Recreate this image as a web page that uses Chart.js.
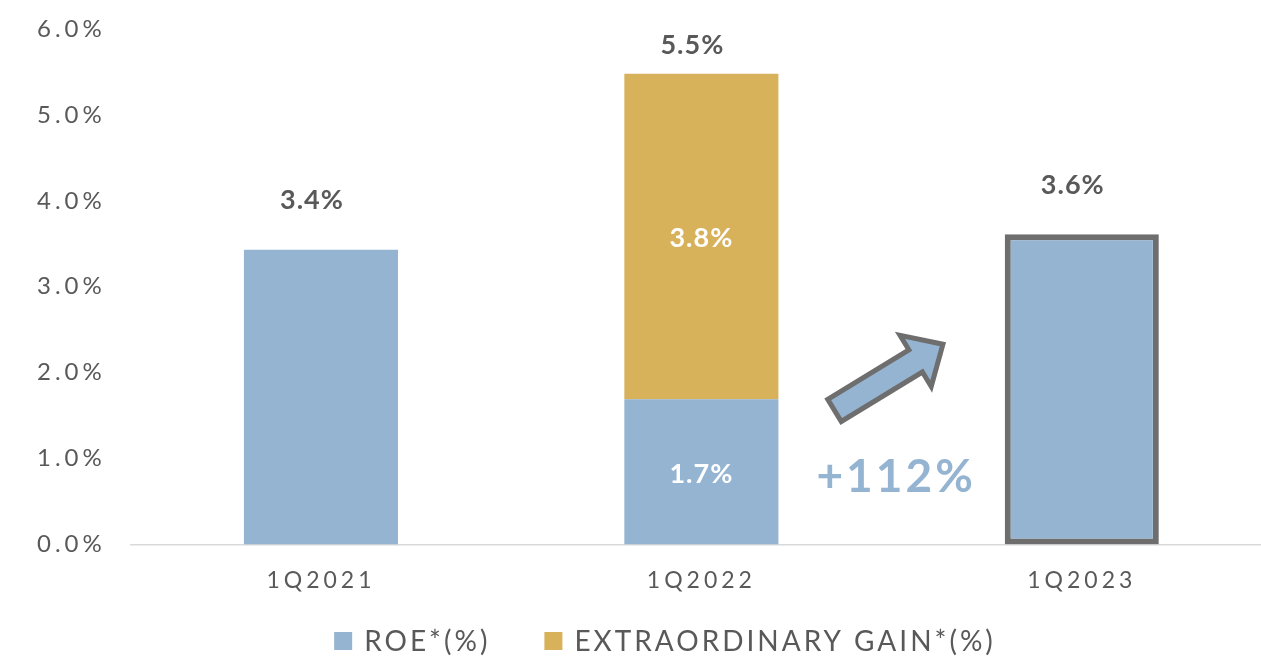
<!DOCTYPE html>
<html>
<head>
<meta charset="utf-8">
<script src="https://cdn.jsdelivr.net/npm/chart.js@4/dist/chart.umd.min.js"></script>
<style>
  html, body { margin: 0; padding: 0; background: #fff; overflow: hidden; }
  #wrap { width: 1272px; height: 659px; }
</style>
</head>
<body>
<div id="wrap"><canvas id="roeChart"></canvas></div>
<script>
// data
const quarters = ["1Q2021", "1Q2022", "1Q2023"];
const roeValues = [3.43, 1.69, 3.61];
const extraValues = [null, 3.79, null];
const yTicks = [0, 1, 2, 3, 4, 5, 6];
const growthLabel = "+112%";

const blue = "#95B4D2";
const gold = "#D8B15B";
const textGray = "#595959";
const edgeGray = "#6E6E6E";

// canvas letter spacing (gets reset when the canvas resizes)
const spacingPlugin = {
    id: "spacing",
    beforeLayout(chart) { chart.ctx.letterSpacing = "4px"; },
    beforeDraw(chart) { chart.ctx.letterSpacing = "4px"; }
};

// value labels: totals above, segment values inside when stacked
const labelPlugin = {
    id: "valueLabels",
    afterDatasetsDraw(chart) {
        const ctx = chart.ctx;
        const y = chart.scales.y;
        ctx.save();
        ctx.textAlign = "center";
        ctx.textBaseline = "middle";
        ctx.letterSpacing = "1px";
        ctx.font = "bold 27px Lato";
        for (let i = 0; i < quarters.length; i++) {
            const bar = chart.getDatasetMeta(0).data[i];
            const total = (roeValues[i] || 0) + (extraValues[i] || 0);
            const topPx = y.getPixelForValue(total);
            if (extraValues[i]) {
                ctx.fillStyle = "#ffffff";
                const roeTop = y.getPixelForValue(roeValues[i]);
                ctx.fillText(roeValues[i].toFixed(1) + "%", bar.x, (roeTop + y.getPixelForValue(0)) / 2 + 2);
                ctx.fillText(extraValues[i].toFixed(1) + "%", bar.x, (roeTop + topPx) / 2 + 2);
            }
            ctx.fillStyle = textGray;
            const ly = Math.max(topPx - 49, chart.chartArea.top + 16);
            ctx.fillText(total.toFixed(1) + "%", bar.x - 9, ly);
        }
        ctx.restore();
    }
};

// growth arrow and label between 1Q2022 and 1Q2023
const arrowPlugin = {
    id: "growthArrow",
    afterDatasetsDraw(chart) {
        const ctx = chart.ctx;
        const xs = chart.scales.x, ys = chart.scales.y;
        const x0 = xs.getPixelForValue(1.35), y0 = ys.getPixelForValue(1.56);
        const x1 = xs.getPixelForValue(1.635), y1 = ys.getPixelForValue(2.33);
        const len = Math.hypot(x1 - x0, y1 - y0);
        const ang = Math.atan2(y1 - y0, x1 - x0);
        const shaft = 13, head = 30, headLen = 32;
        ctx.save();
        ctx.translate(x0, y0);
        ctx.rotate(ang);
        ctx.beginPath();
        ctx.moveTo(0, -shaft);
        ctx.lineTo(len - headLen, -shaft);
        ctx.lineTo(len - headLen, -head);
        ctx.lineTo(len, 0);
        ctx.lineTo(len - headLen, head);
        ctx.lineTo(len - headLen, shaft);
        ctx.lineTo(0, shaft);
        ctx.closePath();
        ctx.fillStyle = blue;
        ctx.fill();
        ctx.lineWidth = 5;
        ctx.lineJoin = "miter";
        ctx.strokeStyle = edgeGray;
        ctx.stroke();
        ctx.restore();

        ctx.save();
        ctx.letterSpacing = "3px";
        ctx.font = "bold 46px Lato";
        ctx.fillStyle = blue;
        ctx.textAlign = "center";
        ctx.textBaseline = "middle";
        ctx.fillText(growthLabel, xs.getPixelForValue(1.512), ys.getPixelForValue(0.78));
        ctx.restore();
    }
};

// legend drawn below the axis, spaced like the original
const legendPlugin = {
    id: "bottomLegend",
    afterDraw(chart) {
        const ctx = chart.ctx;
        const sets = chart.data.datasets;
        const box = 18, gapText = 12, gapItem = 54;
        ctx.save();
        ctx.letterSpacing = "3px";
        ctx.font = "28px Lato";
        ctx.textBaseline = "middle";
        ctx.textAlign = "left";
        const widths = sets.map(d => ctx.measureText(d.label).width);
        let total = 0;
        widths.forEach((w, i) => { total += box + gapText + w + (i ? gapItem : 0); });
        let x = chart.width / 2 + 29 - total / 2;
        const cy = 641;
        sets.forEach((d, i) => {
            ctx.fillStyle = d.backgroundColor;
            ctx.fillRect(x, cy - box / 2, box, box);
            x += box + gapText;
            ctx.fillStyle = textGray;
            ctx.fillText(d.label, x, cy + 1);
            x += widths[i] + gapItem;
        });
        ctx.restore();
    }
};

new Chart("roeChart", {
    type: "bar",
    data: {
        labels: quarters,
        datasets: [{
            label: "ROE*(%)",
            data: roeValues,
            backgroundColor: blue,
            borderColor: [blue, blue, edgeGray],
            borderWidth: [0, 0, 6],
            borderSkipped: false,
            categoryPercentage: 1,
            barPercentage: 0.405
        }, {
            label: "EXTRAORDINARY GAIN*(%)",
            data: extraValues,
            backgroundColor: gold,
            borderWidth: 0,
            categoryPercentage: 1,
            barPercentage: 0.405
        }]
    },
    options: {
        responsive: true,
        maintainAspectRatio: false,
        animation: false,
        layout: { padding: { left: 37, right: 0, top: 29, bottom: 43 } },
        plugins: {
            legend: { display: false },
            title: { display: false },
            tooltip: { enabled: false }
        },
        scales: {
            x: {
                stacked: true,
                grid: { display: false, drawTicks: false },
                border: { display: true, color: "#D9D9D9", width: 1.5 },
                ticks: {
                    color: textGray,
                    font: { family: "Lato", size: 23 },
                    padding: 22
                }
            },
            y: {
                stacked: true,
                min: 0,
                max: 6,
                grid: { display: false, drawTicks: false },
                border: { display: false },
                afterBuildTicks(scale) {
                    scale.ticks = yTicks.map(v => ({ value: v }));
                },
                afterFit(scale) { scale.width += 25; },
                ticks: {
                    color: textGray,
                    font: { family: "Lato", size: 24 },
                    padding: 0,
                    crossAlign: "far",
                    callback: v => v.toFixed(1) + "%"
                }
            }
        }
    },
    plugins: [spacingPlugin, labelPlugin, arrowPlugin, legendPlugin]
});
</script>
</body>
</html>
